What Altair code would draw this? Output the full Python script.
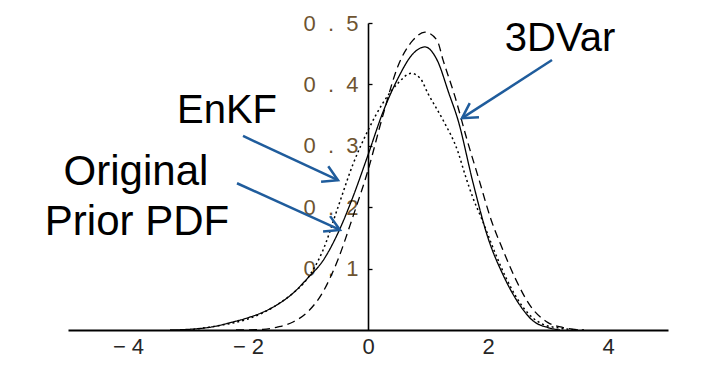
import math
import altair as alt
import pandas as pd

# ---- curve data ----
orig_x = [-3.3, -3.0, -2.6, -2.25, -2.0, -1.75, -1.5, -1.25, -1.0, -0.75, -0.5, -0.25, 0.0,
          0.25, 0.5, 0.75, 0.95, 1.15, 1.35, 1.5, 1.75, 2.0, 2.25, 2.5, 2.75, 3.0, 3.2]
orig_y = [0.0, 0.001, 0.005, 0.013, 0.02, 0.029, 0.042, 0.06, 0.085, 0.113, 0.158, 0.217, 0.285,
          0.355, 0.41, 0.45, 0.461, 0.44, 0.385, 0.342, 0.24, 0.15, 0.09, 0.045, 0.015, 0.004, 0.0]

var_x = [-2.2, -1.75, -1.5, -1.25, -1.0, -0.75, -0.5, -0.25, 0.0, 0.25, 0.5, 0.75, 0.95,
         1.15, 1.25, 1.45, 1.65, 1.85, 2.05, 2.25, 2.45, 2.7, 3.0, 3.25, 3.6]
var_y = [0.0, 0.001, 0.005, 0.013, 0.03, 0.062, 0.115, 0.185, 0.26, 0.35, 0.43, 0.472, 0.485,
         0.472, 0.44, 0.38, 0.31, 0.245, 0.18, 0.13, 0.085, 0.04, 0.012, 0.004, 0.0]

enkf_x = [-3.0, -2.5, -2.0, -1.5, -1.25, -1.0, -0.75, -0.5, -0.25, 0.0, 0.25, 0.5, 0.72,
          0.87, 1.0, 1.25, 1.5, 1.62, 1.75, 1.9, 2.1, 2.3, 2.6, 2.9, 3.2, 3.5]
enkf_y = [0.0, 0.007, 0.018, 0.042, 0.06, 0.085, 0.13, 0.2, 0.27, 0.325, 0.37, 0.402, 0.418,
          0.41, 0.385, 0.342, 0.29, 0.252, 0.215, 0.18, 0.13, 0.085, 0.035, 0.01, 0.003, 0.0]

x_ticks = [-4, -2, 0, 2, 4]
y_ticks = [0.1, 0.2, 0.3, 0.4, 0.5]

# ---- annotations ----
ann_text = ["3DVar", "EnKF", "Original", "Prior PDF"]
ann_tx = [3.2, -2.35, -3.867, -3.85]
ann_ty = [0.4544, 0.337, 0.236, 0.155]
ann_size = [40, 40, 42, 42]

arr_x1 = [3.067, -2.083, -2.183]
arr_y1 = [0.4397, 0.316, 0.239]
arr_x2 = [1.567, -0.5, -0.467]
arr_y2 = [0.345, 0.244, 0.163]

W, H = 600, 307
XD, YD = [-5, 5], [0, 0.5]
BLUE = "#1f5c9c"

xs = alt.Scale(domain=XD, nice=False, zero=False)
ys = alt.Scale(domain=YD, nice=False, zero=False)

x_axis = alt.Axis(values=x_ticks, title=None, grid=False, ticks=False,
                  domainColor="black", domainWidth=1.8,
                  labelFont="Liberation Sans", labelFontSize=22, labelColor="#262626",
                  labelPadding=6, labelFlush=False,
                  labelExpr="datum.value < 0 ? '\u2212\u00a0' + abs(datum.value) : '' + datum.value")
y_axis = alt.Axis(orient="right", offset=-300, values=y_ticks, title=None, grid=False,
                  tickSize=4, tickColor="black", tickWidth=1.3,
                  domainColor="black", domainWidth=1.6,
                  labelAlign="right", labelPadding=-14, labelBaseline="middle",
                  labelFont="Liberation Sans", labelFontSize=22, labelColor="#6e5430",
                  labelFlush=False,
                  labelExpr="replace(format(datum.value, '.1f'), '.', '\u00a0\u00a0.\u00a0\u00a0')")


def X(field):
    return alt.X(field, scale=xs, axis=x_axis)


def Y(field):
    return alt.Y(field, scale=ys, axis=y_axis)


series = [("orig", orig_x, orig_y, [1, 0], 1.3),
          ("3dvar", var_x, var_y, [8, 5], 1.3),
          ("enkf", enkf_x, enkf_y, [2, 3], 1.5)]

layers = []
for name, xv, yv, dash, sw in series:
    d = pd.DataFrame({"x": xv, "y": yv})
    layers.append(alt.Chart(d).mark_line(color="black", strokeWidth=sw, strokeDash=dash,
                                         interpolate="monotone").encode(x=X("x:Q"), y=Y("y:Q")))

# arrows
ang = []
for a, b, c, e in zip(arr_x1, arr_y1, arr_x2, arr_y2):
    dx = (c - a) * W / (XD[1] - XD[0])
    dy = -(e - b) * H / (YD[1] - YD[0])
    ang.append(math.degrees(math.atan2(dy, dx)) % 360)
arr = pd.DataFrame({"x1": arr_x1, "y1": arr_y1, "x2": arr_x2, "y2": arr_y2, "ang": ang})

rules = alt.Chart(arr).mark_rule(color=BLUE, strokeWidth=2.5).encode(
    x=X("x1:Q"), y=Y("y1:Q"), x2="x2:Q", y2="y2:Q")
heads = alt.Chart(arr).mark_point(shape="M-1,-0.577L0,0L-1,0.577", filled=False, size=865,
                                  strokeWidth=2.5, color=BLUE, opacity=1).encode(
    x=X("x2:Q"), y=Y("y2:Q"), angle=alt.Angle("ang:Q", scale=None))

txt = pd.DataFrame({"t": ann_text, "x": ann_tx, "y": ann_ty, "s": ann_size})
texts = alt.Chart(txt).mark_text(font="Liberation Sans", color="black", align="center",
                                 baseline="alphabetic").encode(
    x=X("x:Q"), y=Y("y:Q"), text="t:N", size=alt.Size("s:Q", scale=None))

chart = alt.layer(*layers, rules, heads, texts).properties(
    width=W, height=H, autosize="none", background="white",
    padding={"left": 60, "top": 15, "right": 40, "bottom": 36}
).configure_view(stroke=None)

chart.save("out.html", embed_options={"renderer": "svg", "actions": False})
